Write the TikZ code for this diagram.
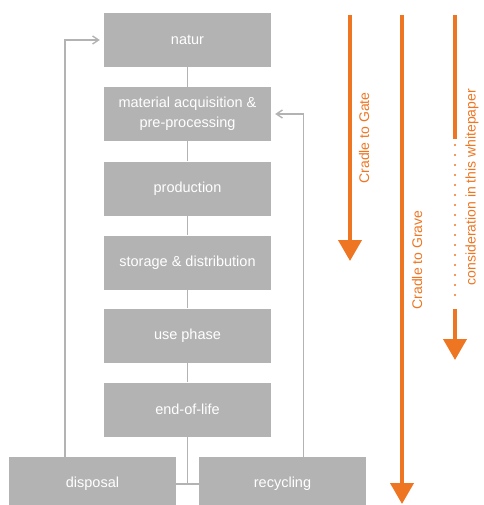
\documentclass[tikz,border=0pt]{standalone}
\usepackage{fontspec}
\setmainfont{Liberation Sans}
\usetikzlibrary{arrows.meta}
\definecolor{boxgray}{HTML}{B3B3B3}
\definecolor{lcaorange}{HTML}{EE7623}
\begin{document}
\begin{tikzpicture}[x=1pt,y=-1pt,
  stagebox/.style={fill=boxgray,draw=none,minimum width=167pt,minimum height=54pt,inner sep=2pt,
    text=white,font=\fontsize{14.5}{20}\selectfont,align=center},
  link/.style={draw=boxgray,line width=1.4pt},
  fb/.style={draw=boxgray,line width=1.4pt,-{Straight Barb[length=6pt,width=8pt]},shorten >=4pt},
  big/.style={draw=lcaorange,line width=4pt,-{Triangle[length=21pt,width=23pt]}},
  bigline/.style={draw=lcaorange,line width=4pt},
  dots/.style={draw=lcaorange,line width=2.2pt,line cap=round,dash pattern=on 0pt off 10pt},
  olabel/.style={text=lcaorange,font=\fontsize{14}{16}\selectfont,rotate=90,inner sep=0pt}]
\useasboundingbox (0,0) rectangle (483,505);
\clip (0,0) rectangle (483,505);
\node[stagebox] (natur) at (187.5,40) {natur};
\node[stagebox] (mat) at (187.5,114) {material acquisition \&\\pre-processing};
\node[stagebox] (prod) at (187.5,188.5) {production};
\node[stagebox] (stor) at (187.5,262.5) {storage \& distribution};
\node[stagebox] (use) at (187.5,335.5) {use phase};
\node[stagebox] (eol) at (187.5,409.5) {end-of-life};
\node[stagebox] (disp) at (92.5,484) {disposal};
\node[stagebox] (rec) at (282.5,484) {recycling};
\draw[link] (natur) -- (mat);
\draw[link] (mat) -- (prod);
\draw[link] (prod) -- (stor);
\draw[link] (stor) -- (use);
\draw[link] (use) -- (eol);
\coordinate (tj) at (187.5,484);
\draw[link] (eol.south) -- (tj);
\draw[link] (disp.east |- tj) -- (rec.west |- tj);
\draw[fb] ([xshift=56pt]disp.north west) |- (natur.west);
\draw[fb] ([xshift=-63pt]rec.north east) |- (mat.east);
% orange scope arrows
\coordinate (a1s) at (350,15); \coordinate (a1e) at (350,261);
\draw[big] (a1s) -- (a1e);
\node[olabel] (l1) at (364,138) {Cradle to Gate};
\coordinate (a2s) at (402,15); \coordinate (a2e) at (402,504);
\draw[big] (a2s) -- (a2e);
\node[olabel] (l2) at (417,260) {Cradle to Grave};
\coordinate (a3s) at (455,15); \coordinate (a3m) at (455,139);
\coordinate (a3d1) at (455,145); \coordinate (a3d2) at (455,305);
\coordinate (a3n) at (455,309); \coordinate (a3e) at (455,360);
\draw[bigline] (a3s) -- (a3m);
\draw[dots] (a3d1) -- (a3d2);
\draw[big] (a3n) -- (a3e);
\node[olabel] (l3) at (472,187) {consideration in this whitepaper};
\end{tikzpicture}
\end{document}
